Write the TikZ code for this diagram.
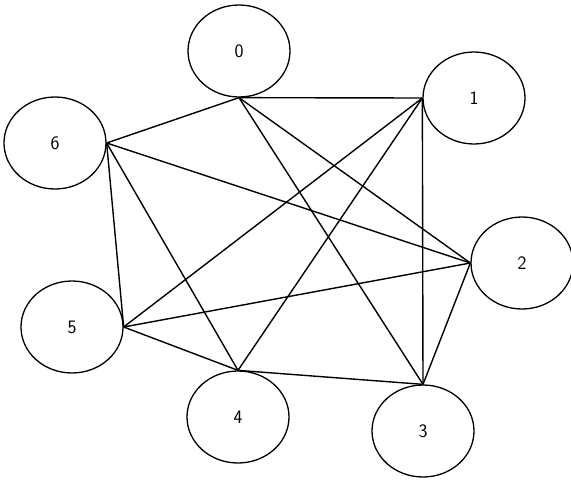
\documentclass[tikz,border=0pt]{standalone}
\usetikzlibrary{shapes.geometric}
\tikzset{
  vx/.style={draw, ellipse, line width=1.3pt, minimum width=102pt,
             minimum height=92pt, inner sep=0pt, font=\fontsize{19}{22}\sffamily},
  ed/.style={line width=1.4pt},
}
\begin{document}
\begin{tikzpicture}[x=1pt, y=-1pt]
    \useasboundingbox (0,0) rectangle (571,483);
    \node[vx] (n0) at (239,51) {0};
    \node[vx] (n1) at (474,98) {1};
    \node[vx] (n2) at (522,263) {2};
    \node[vx] (n3) at (423,431) {3};
    \node[vx] (n4) at (238,417) {4};
    \node[vx] (n5) at (72,327) {5};
    \node[vx] (n6) at (55,143) {6};
    \foreach \a/\b in {n0.south/n1.west, n0.south/n6.east, n0.south/n2.west,
                       n0.south/n3.north, n1.west/n5.east, n1.west/n4.north,
                       n1.west/n3.north, n6.east/n2.west, n6.east/n4.north,
                       n6.east/n5.east, n2.west/n5.east, n2.west/n3.north,
                       n5.east/n4.north, n4.north/n3.north}
      \draw[ed] (\a) -- (\b);
  \end{tikzpicture}
\end{document}
